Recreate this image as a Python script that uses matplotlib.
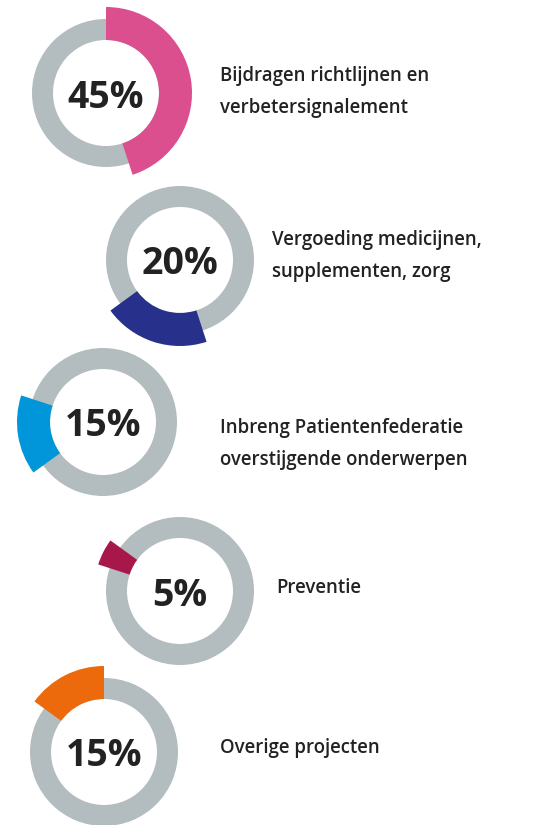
import matplotlib
matplotlib.use("Agg")
import matplotlib.pyplot as plt

# data
labels = [
    "Bijdragen richtlijnen en\nverbetersignalement",
    "Vergoeding medicijnen,\nsupplementen, zorg",
    "Inbreng Patientenfederatie\noverstijgende onderwerpen",
    "Preventie",
    "Overige projecten",
]
shares = [45, 20, 15, 5, 15]
pct_text = ["45%", "20%", "15%", "5%", "15%"]
colors = ["#dc4f8f", "#27318b", "#0196da", "#a8174a", "#ec6a0c"]
ring_color = "#b3bcbf"
text_color = "#222222"

# layout (pixel space, y up)
W, H = 535, 825
centers = [(106, 732), (180, 565), (103, 403), (180, 234), (104, 73)]
label_pos = [(220, 733), (272, 569), (220, 381), (276, 237), (220, 77)]
r_ring, w_ring = 74, 21
r_seg, w_seg = 86, 33

fig = plt.figure(figsize=(W / 100, H / 100), dpi=100)
ax = fig.add_axes([0, 0, 1, 1])
ax.set_xlim(0, W)
ax.set_ylim(0, H)
ax.set_aspect("equal")
ax.axis("off")

cum = 0
for i in range(len(shares)):
    c = centers[i]
    ax.pie([1], colors=[ring_color], radius=r_ring, center=c,
           wedgeprops=dict(width=w_ring, linewidth=0))
    ax.pie([shares[i], 100 - shares[i]], colors=[colors[i], "none"],
           radius=r_seg, center=c, startangle=90 - cum * 3.6,
           counterclock=False, wedgeprops=dict(width=w_seg, linewidth=0))
    cum += shares[i]
    ax.text(c[0], c[1], pct_text[i], ha="center", va="center_baseline",
            fontsize=27, fontweight="bold", family="Open Sans", color=text_color)
    ax.text(label_pos[i][0], label_pos[i][1], labels[i], ha="left", va="center",
            fontsize=13.4, fontweight="semibold", family="Open Sans",
            color=text_color, linespacing=1.8)

ax.set_xlim(0, W)
ax.set_ylim(0, H)
fig.savefig("out.png", dpi=100, facecolor="white")
